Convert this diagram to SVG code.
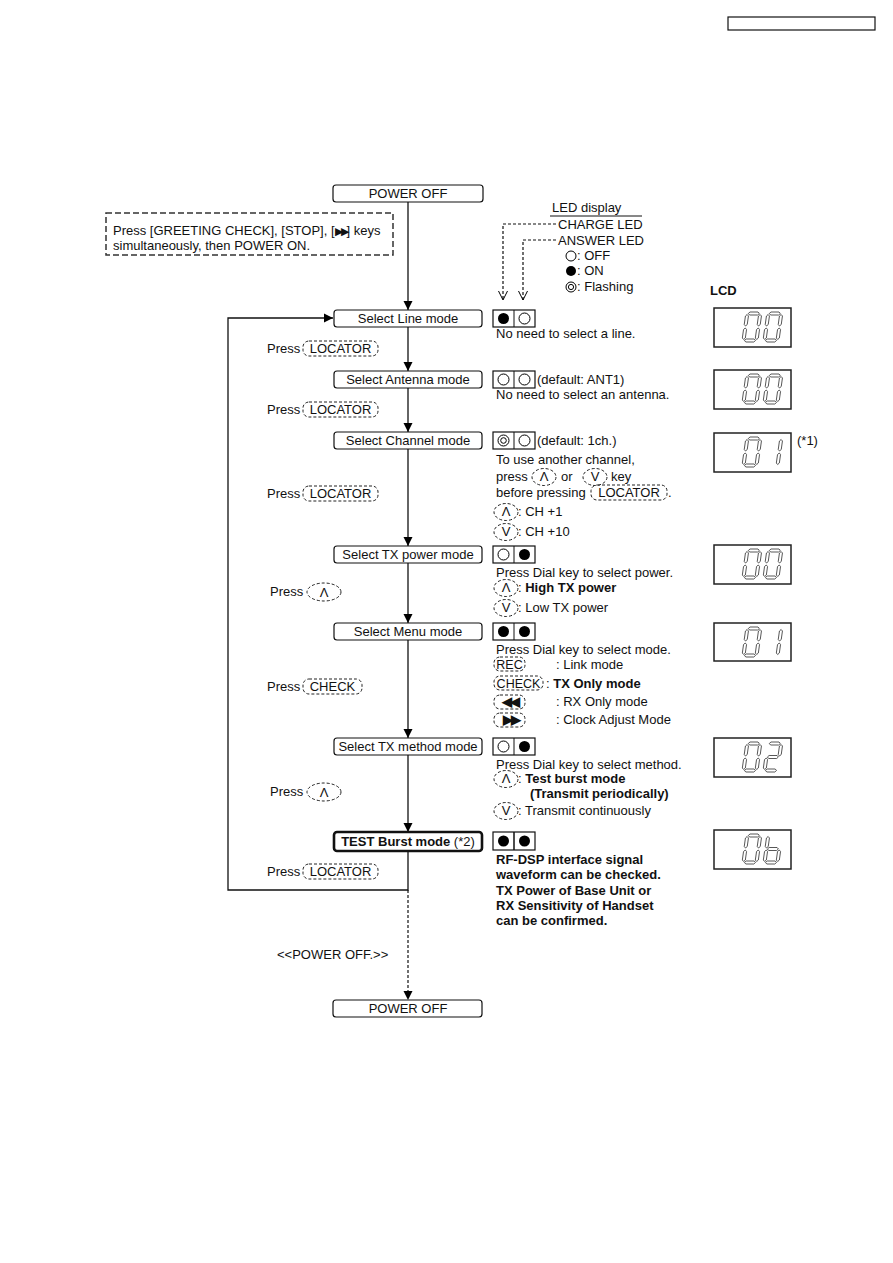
<svg xmlns="http://www.w3.org/2000/svg" width="893" height="1263" viewBox="0 0 893 1263">
<style>
text{font-family:"Liberation Sans",Arial,sans-serif;font-size:13px;fill:#111}
.b{font-weight:bold}
.c{text-anchor:middle}
.k{font-size:12.5px}
.node{fill:#fff;stroke:#111;stroke-width:1.2}
.thick{stroke-width:2.6}
.led{fill:#fff;stroke:#111;stroke-width:1.2}
.key{fill:none;stroke:#222;stroke-width:1;stroke-dasharray:3 2}
.conn{fill:none;stroke:#111;stroke-width:1.3}
.dash{fill:none;stroke:#111;stroke-width:1.2;stroke-dasharray:3 2}
.lcd{fill:#fff;stroke:#222;stroke-width:1.5}
.seg{fill:#fff;stroke:#333;stroke-width:0.8}
.on{fill:#000}
.off{fill:#fff;stroke:#000;stroke-width:1}
</style>
<defs>
<marker id="arr" markerWidth="10" markerHeight="10" refX="9" refY="5" orient="auto" markerUnits="userSpaceOnUse"><path d="M0,0.5 L9,5 L0,9.5 Z" fill="#000"/></marker>
<marker id="open" markerWidth="10" markerHeight="12" refX="9" refY="5" orient="auto" markerUnits="userSpaceOnUse"><path d="M0,0.5 L9,5 L0,9.5" fill="none" stroke="#000" stroke-width="1"/></marker>
<polygon id="sa" class="seg" points="2.5,1.5 4,0 12,0 13.5,1.5 12,3 4,3"/>
<polygon id="sg" class="seg" points="2.5,15 4,13.5 12,13.5 13.5,15 12,16.5 4,16.5"/>
<polygon id="sd" class="seg" points="2.5,28.5 4,27 12,27 13.5,28.5 12,30 4,30"/>
<polygon id="sf" class="seg" points="1.5,2.5 3,4 3,12.5 1.5,14 0,12.5 0,4"/>
<polygon id="sb" class="seg" points="14.5,2.5 16,4 16,12.5 14.5,14 13,12.5 13,4"/>
<polygon id="se" class="seg" points="1.5,16 3,17.5 3,26 1.5,27.5 0,26 0,17.5"/>
<polygon id="sc" class="seg" points="14.5,16 16,17.5 16,26 14.5,27.5 13,26 13,17.5"/>
<g id="d0"><use href="#sa"/><use href="#sb"/><use href="#sc"/><use href="#sd"/><use href="#se"/><use href="#sf"/></g>
<g id="d1"><use href="#sb"/><use href="#sc"/></g>
<g id="d2"><use href="#sa"/><use href="#sb"/><use href="#sg"/><use href="#se"/><use href="#sd"/></g>
<g id="db"><use href="#sf"/><use href="#se"/><use href="#sg"/><use href="#sc"/><use href="#sd"/></g>
</defs>
<rect width="893" height="1263" fill="#fff"/>
<rect x="728" y="17" width="147" height="13" fill="none" stroke="#111" stroke-width="1.2"/>

<g id="connectors">
<line class="conn" x1="408" y1="202" x2="408" y2="310" marker-end="url(#arr)"/>
<line class="conn" x1="408" y1="327" x2="408" y2="371" marker-end="url(#arr)"/>
<line class="conn" x1="408" y1="388" x2="408" y2="432" marker-end="url(#arr)"/>
<line class="conn" x1="408" y1="449" x2="408" y2="546" marker-end="url(#arr)"/>
<line class="conn" x1="408" y1="563" x2="408" y2="623" marker-end="url(#arr)"/>
<line class="conn" x1="408" y1="640" x2="408" y2="738" marker-end="url(#arr)"/>
<line class="conn" x1="408" y1="755" x2="408" y2="832" marker-end="url(#arr)"/>
<polyline class="conn" points="408,851 408,890 228,890 228,318 333,318" marker-end="url(#arr)"/>
<line class="dash" x1="408" y1="890" x2="408" y2="1000" marker-end="url(#arr)"/>
<polyline class="dash" points="556,224 503,224 503,300" marker-end="url(#open)"/>
<polyline class="dash" points="556,240 523,240 523,300" marker-end="url(#open)"/>
</g>

<g id="note-start">
<rect x="106" y="213" width="287" height="42" fill="none" stroke="#333" stroke-width="1.5" stroke-dasharray="6 3"/>
<text x="113" y="235">Press [GREETING CHECK], [STOP], [<tspan letter-spacing="-2" font-size="11">▶▶</tspan>] keys</text>
<text x="113" y="250">simultaneously, then POWER ON.</text>
</g>

<g id="legend">
<text x="552" y="212">LED display</text>
<line x1="550" y1="216" x2="642" y2="216" stroke="#111" stroke-width="1"/>
<text x="558" y="229">CHARGE LED</text>
<text x="558" y="245">ANSWER LED</text>
<circle cx="571" cy="256" r="5" class="off"/><text x="577" y="260">: OFF</text>
<circle cx="571" cy="271" r="5" class="on"/><text x="577" y="275">: ON</text>
<circle cx="571" cy="287" r="5" class="off"/><circle cx="571" cy="287" r="2.6" class="off"/><text x="577" y="291">: Flashing</text>
<text x="710" y="295" class="b">LCD</text>
</g>

<g id="power-off-top">
<rect class="node" x="333" y="185" width="150" height="17" rx="3"/>
<text x="408" y="198" class="c">POWER OFF</text>
</g>

<g id="line-mode">
<rect class="node" x="334" y="310" width="148" height="17" rx="3"/>
<text x="408" y="323" class="c">Select Line mode</text>
<rect class="led" x="493" y="310" width="42" height="17"/><line x1="514" y1="310" x2="514" y2="327" stroke="#111"/>
<circle cx="503.5" cy="318.5" r="5.5" class="on"/><circle cx="524.5" cy="318.5" r="5.5" class="off"/>
<text x="496" y="338">No need to select a line.</text>
<text x="267" y="353">Press</text>
<rect class="key" x="303" y="341" width="75" height="15" rx="6"/><text x="340.5" y="353" class="c">LOCATOR</text>
</g>

<g id="antenna-mode">
<rect class="node" x="334" y="371" width="148" height="17" rx="3"/>
<text x="408" y="384" class="c">Select Antenna mode</text>
<rect class="led" x="493" y="371" width="42" height="17"/><line x1="514" y1="371" x2="514" y2="388" stroke="#111"/>
<circle cx="503.5" cy="379.5" r="5.5" class="off"/><circle cx="524.5" cy="379.5" r="5.5" class="off"/>
<text x="537" y="384">(default: ANT1)</text>
<text x="496" y="399">No need to select an antenna.</text>
<text x="267" y="414">Press</text>
<rect class="key" x="303" y="402" width="75" height="15" rx="6"/><text x="340.5" y="414" class="c">LOCATOR</text>
</g>

<g id="channel-mode">
<rect class="node" x="334" y="432" width="148" height="17" rx="3"/>
<text x="408" y="445" class="c">Select Channel mode</text>
<rect class="led" x="493" y="432" width="42" height="17"/><line x1="514" y1="432" x2="514" y2="449" stroke="#111"/>
<circle cx="503.5" cy="440.5" r="5.5" class="off"/><circle cx="503.5" cy="440.5" r="2.8" class="off"/><circle cx="524.5" cy="440.5" r="5.5" class="off"/>
<text x="537" y="445">(default: 1ch.)</text>
<text x="496" y="464">To use another channel,</text>
<text x="496" y="481">press</text>
<ellipse class="key" cx="544" cy="477" rx="12" ry="8.5"/><text x="544" y="481" class="c">Λ</text>
<text x="561" y="481">or</text>
<ellipse class="key" cx="595" cy="477" rx="12" ry="8.5"/><text x="595" y="481" class="c">V</text>
<text x="611" y="481">key</text>
<text x="496" y="497">before pressing</text>
<rect class="key" x="591" y="485" width="76" height="15" rx="6"/><text x="629" y="497" class="c">LOCATOR</text>
<text x="668" y="497">.</text>
<ellipse class="key" cx="506" cy="512" rx="12" ry="8.5"/><text x="506" y="516" class="c">Λ</text>
<text x="518" y="516">: CH +1</text>
<ellipse class="key" cx="506" cy="532" rx="12" ry="8.5"/><text x="506" y="536" class="c">V</text>
<text x="518" y="536">: CH +10</text>
<text x="267" y="498">Press</text>
<rect class="key" x="303" y="486" width="75" height="15" rx="6"/><text x="340.5" y="498" class="c">LOCATOR</text>
</g>

<g id="txpower-mode">
<rect class="node" x="334" y="546" width="148" height="17" rx="3"/>
<text x="408" y="559" class="c">Select TX power mode</text>
<rect class="led" x="493" y="546" width="42" height="17"/><line x1="514" y1="546" x2="514" y2="563" stroke="#111"/>
<circle cx="503.5" cy="554.5" r="5.5" class="off"/><circle cx="524.5" cy="554.5" r="5.5" class="on"/>
<text x="496" y="577">Press Dial key to select power.</text>
<ellipse class="key" cx="506" cy="588" rx="12" ry="8.5"/><text x="506" y="592" class="c">Λ</text>
<text x="518" y="592">: <tspan class="b">High TX power</tspan></text>
<ellipse class="key" cx="506" cy="608" rx="12" ry="8.5"/><text x="506" y="612" class="c">V</text>
<text x="518" y="612">: Low TX power</text>
<text x="270" y="596">Press</text>
<ellipse class="key" cx="324" cy="592" rx="17" ry="9"/><text x="324" y="597" class="c">Λ</text>
</g>

<g id="menu-mode">
<rect class="node" x="334" y="623" width="148" height="17" rx="3"/>
<text x="408" y="636" class="c">Select Menu mode</text>
<rect class="led" x="493" y="623" width="42" height="17"/><line x1="514" y1="623" x2="514" y2="640" stroke="#111"/>
<circle cx="503.5" cy="631.5" r="5.5" class="on"/><circle cx="524.5" cy="631.5" r="5.5" class="on"/>
<text x="496" y="654">Press Dial key to select mode.</text>
<rect class="key" x="494" y="657" width="31" height="14" rx="6"/><text x="509.5" y="668.5" class="c k">REC</text>
<text x="556" y="669">: Link mode</text>
<rect class="key" x="494" y="676" width="49" height="14" rx="6"/><text x="518.5" y="687.5" class="c k">CHECK</text>
<text x="546" y="688">: <tspan class="b">TX Only mode</tspan></text>
<rect class="key" x="494" y="695" width="31" height="14" rx="6"/><text x="509.5" y="706" class="c b" font-size="11" letter-spacing="-2">◀◀</text>
<text x="556" y="706">: RX Only mode</text>
<rect class="key" x="494" y="713" width="31" height="14" rx="6"/><text x="510.5" y="724" class="c b" font-size="11" letter-spacing="-2">▶▶</text>
<text x="556" y="724">: Clock Adjust Mode</text>
<text x="267" y="691">Press</text>
<rect class="key" x="303" y="679" width="59" height="15" rx="6"/><text x="332.5" y="691" class="c">CHECK</text>
</g>

<g id="txmethod-mode">
<rect class="node" x="334" y="738" width="148" height="17" rx="3"/>
<text x="408" y="751" class="c">Select TX method mode</text>
<rect class="led" x="493" y="738" width="42" height="17"/><line x1="514" y1="738" x2="514" y2="755" stroke="#111"/>
<circle cx="503.5" cy="746.5" r="5.5" class="off"/><circle cx="524.5" cy="746.5" r="5.5" class="on"/>
<text x="496" y="769">Press Dial key to select method.</text>
<ellipse class="key" cx="506" cy="779" rx="12" ry="8.5"/><text x="506" y="783" class="c">Λ</text>
<text x="518" y="783">: <tspan class="b">Test burst mode</tspan></text>
<text x="530" y="798" class="b">(Transmit periodically)</text>
<ellipse class="key" cx="506" cy="811" rx="12" ry="8.5"/><text x="506" y="815" class="c">V</text>
<text x="518" y="815">: Transmit continuously</text>
<text x="270" y="796">Press</text>
<ellipse class="key" cx="324" cy="792" rx="17" ry="9"/><text x="324" y="797" class="c">Λ</text>
</g>

<g id="test-burst-mode">
<rect class="node thick" x="334" y="832" width="148" height="19" rx="3"/>
<text x="408" y="846" class="c b">TEST Burst mode <tspan font-weight="normal">(*2)</tspan></text>
<rect class="led" x="493" y="832" width="42" height="18" stroke-width="2"/><line x1="514" y1="832" x2="514" y2="850" stroke="#111" stroke-width="1.5"/>
<circle cx="503.5" cy="841" r="5.5" class="on"/><circle cx="524.5" cy="841" r="5.5" class="on"/>
<text x="496" y="864" class="b">RF-DSP interface signal</text>
<text x="496" y="879" class="b">waveform can be checked.</text>
<text x="496" y="895" class="b">TX Power of Base Unit or</text>
<text x="496" y="910" class="b">RX Sensitivity of Handset</text>
<text x="496" y="925" class="b">can be confirmed.</text>
<text x="267" y="876">Press</text>
<rect class="key" x="303" y="864" width="75" height="15" rx="6"/><text x="340.5" y="876" class="c">LOCATOR</text>
</g>

<g id="power-off-bottom">
<text x="277" y="959">&lt;&lt;POWER OFF.&gt;&gt;</text>
<rect class="node" x="333" y="1000" width="149" height="17" rx="3"/>
<text x="408" y="1013" class="c">POWER OFF</text>
</g>

<g id="lcd">
<rect class="lcd" x="714" y="308" width="77" height="39"/>
<use href="#d0" transform="translate(746,312) skewX(-8)"/><use href="#d0" transform="translate(767,312) skewX(-8)"/>
<rect class="lcd" x="714" y="370" width="77" height="39"/>
<use href="#d0" transform="translate(746,374) skewX(-8)"/><use href="#d0" transform="translate(767,374) skewX(-8)"/>
<rect class="lcd" x="714" y="433" width="77" height="39"/>
<use href="#d0" transform="translate(746,437) skewX(-8)"/><use href="#d1" transform="translate(767,437) skewX(-8)"/>
<text x="797" y="445">(*1)</text>
<rect class="lcd" x="714" y="545" width="77" height="39"/>
<use href="#d0" transform="translate(746,549) skewX(-8)"/><use href="#d0" transform="translate(767,549) skewX(-8)"/>
<rect class="lcd" x="714" y="623" width="77" height="38"/>
<use href="#d0" transform="translate(746,627) skewX(-8)"/><use href="#d1" transform="translate(767,627) skewX(-8)"/>
<rect class="lcd" x="714" y="738" width="77" height="39"/>
<use href="#d0" transform="translate(746,742) skewX(-8)"/><use href="#d2" transform="translate(767,742) skewX(-8)"/>
<rect class="lcd" x="714" y="830" width="77" height="39"/>
<use href="#d0" transform="translate(746,834) skewX(-8)"/><use href="#db" transform="translate(767,834) skewX(-8)"/>
</g>
</svg>
